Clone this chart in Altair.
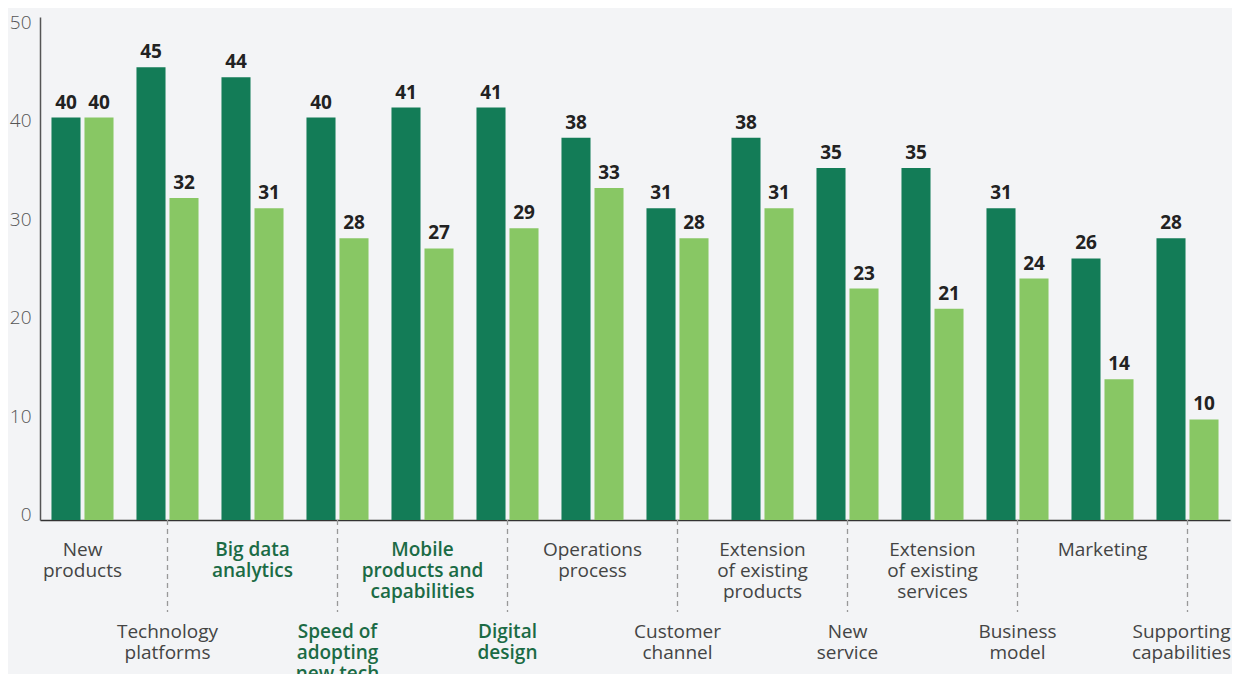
import altair as alt
import pandas as pd

categories = [
    "New products", "Technology platforms", "Big data analytics",
    "Speed of adopting new tech", "Mobile products and capabilities",
    "Digital design", "Operations process", "Customer channel",
    "Extension of existing products", "New service",
    "Extension of existing services", "Business model", "Marketing",
    "Supporting capabilities",
]
label_lines = [
    ["New", "products"], ["Technology", "platforms"], ["Big data", "analytics"],
    ["Speed of", "adopting", "new tech"], ["Mobile", "products and", "capabilities"],
    ["Digital", "design"], ["Operations", "process"], ["Customer", "channel"],
    ["Extension", "of existing", "products"], ["New", "service"],
    ["Extension", "of existing", "services"], ["Business", "model"], ["Marketing"],
    ["Supporting", "capabilities"],
]
highlighted = [False, False, True, True, True, True, False, False, False, False, False, False, False, False]
series_names = ["Series 1", "Series 2"]
series1 = [40, 45, 44, 40, 41, 41, 38, 31, 38, 35, 35, 31, 26, 28]
series2 = [40, 32, 31, 28, 27, 29, 33, 28, 31, 23, 21, 24, 14, 10]

bars = pd.DataFrame(
    [{"cat": c, "series": series_names[0], "value": v} for c, v in zip(categories, series1)]
    + [{"cat": c, "series": series_names[1], "value": v} for c, v in zip(categories, series2)]
)
labels = pd.DataFrame({
    "cat": categories,
    "lines": label_lines,
    "row": [i % 2 for i in range(len(categories))],
    "hl": highlighted,
    "last": [i == len(categories) - 1 for i in range(len(categories))],
})

DARK = "#137c57"
LIGHT = "#88c764"
FONT = "Open Sans"

xscale = alt.Scale(domain=categories, paddingInner=0.27, paddingOuter=0.135)
x_enc = alt.X("cat:N", scale=xscale,
              axis=alt.Axis(labels=False, ticks=False, title=None,
                            domainColor="#333333", domainWidth=1.5))
y_enc = alt.Y("value:Q", scale=alt.Scale(domain=[0, 50], nice=False),
              axis=alt.Axis(values=[0, 10, 20, 30, 40, 50], title=None, grid=False,
                            ticks=False, labelPadding=9, labelFontSize=19,
                            labelOffset={"expr": "(datum.value - 25) * 0.22"},
                            labelColor="#555555", labelFont=FONT, labelFontWeight=300,
                            domainColor="#555555", domainWidth=1.5))
xoff = alt.XOffset("series:N", scale=alt.Scale(domain=series_names, paddingInner=0.12))
color = alt.Color("series:N", scale=alt.Scale(domain=series_names, range=[DARK, LIGHT]), legend=None)

bar_layer = alt.Chart(bars).mark_bar().encode(x=x_enc, y=y_enc, xOffset=xoff, color=color)

value_layer = alt.Chart(bars).mark_text(
    font=FONT, fontSize=19, fontWeight="bold", color="#222222",
    baseline="alphabetic", dy=-9
).encode(x=x_enc, y=y_enc, xOffset=xoff, text=alt.Text("value:Q"))

rules = alt.Chart(labels).transform_filter("datum.row == 1").mark_rule(
    color="#999999", strokeDash=[5, 4], strokeWidth=1.3
).encode(x=x_enc, y=alt.value(503), y2=alt.value(595))


def label_layer(row, hl, ypix, last=False):
    return alt.Chart(labels).transform_filter(
        f"datum.row == {row} && datum.hl == {'true' if hl else 'false'}"
        f" && datum.last == {'true' if last else 'false'}"
    ).mark_text(
        font=FONT, fontSize=19, baseline="top", lineHeight=21, align="center",
        color="#1b6b45" if hl else "#444444", fontWeight=600 if hl else 400,
        dx=-6 if last else 0,
    ).encode(x=x_enc, y=alt.value(ypix), text="lines")


chart = alt.layer(
    bar_layer, value_layer, rules,
    label_layer(0, False, 524), label_layer(0, True, 524),
    label_layer(1, False, 606), label_layer(1, True, 606),
    label_layer(1, False, 606, last=True),
).properties(
    width=1190, height=503,
    autosize=alt.AutoSizeParams(type="none"),
    padding={"left": 32, "top": 9, "right": 2, "bottom": 154},
    background="#f3f4f6",
).configure_view(stroke=None)

chart.save("out.html", embed_options={"renderer": "svg", "actions": False})
